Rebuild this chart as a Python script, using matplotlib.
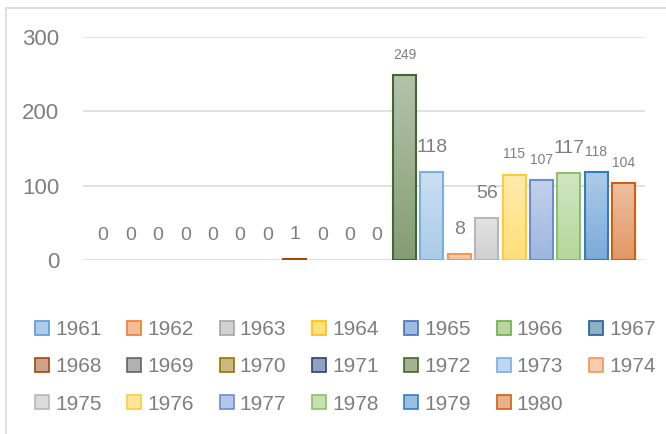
import matplotlib
matplotlib.use("Agg")
import matplotlib.pyplot as plt
import numpy as np
from matplotlib.patches import Patch
from matplotlib.lines import Line2D
from matplotlib.colors import to_rgb

years = [str(y) for y in range(1961, 1981)]
values = [0, 0, 0, 0, 0, 0, 0, 1, 0, 0, 0, 249, 118, 8, 56, 115, 107, 117, 118, 104]
colors = ["#5B9BD5", "#ED7D31", "#A5A5A5", "#FFC000", "#4472C4", "#70AD47", "#255E91",
          "#9E480E", "#636363", "#997300", "#264478", "#43682B", "#7CAFDD", "#F1975A",
          "#B7B7B7", "#FFCD33", "#698ED0", "#8CC168", "#327DC2", "#D26012"]
label_big = [True] * 11 + [False, True, True, True, False, False, True, False, False]
yticks = [0, 100, 200, 300]

TXT = "#7F7F7F"
FONT = "Liberation Sans"
plt.rcParams["font.family"] = [FONT, "DejaVu Sans"]


def mix(c, t):
    r = np.array(to_rgb(c))
    return tuple(r * (1 - t) + t)


fig = plt.figure(figsize=(6.66, 4.34), dpi=100)
ax = fig.add_axes([83 / 666, 174 / 434, 562 / 666, 223 / 434])

w = 0.84
xs = np.arange(len(values))
bars = ax.bar(xs, values, width=w, facecolor="none", edgecolor=colors, linewidth=1.5, zorder=3)

for b, c, x, v in zip(bars, colors, xs, values):
    if v <= 0:
        b.set_visible(False)
        continue
    top = mix(c, 0.6)
    bot = mix(c, 0.35)
    grad = np.linspace(0, 1, 64)[:, None, None]
    img = np.array(bot)[None, None, :] * (1 - grad) + np.array(top)[None, None, :] * grad
    im = ax.imshow(img, extent=(x - w / 2, x + w / 2, 0, v), origin="lower",
                   aspect="auto", zorder=2, interpolation="bilinear")
    im.set_clip_path(b)

for x, v, big in zip(xs, values, label_big):
    if big:
        ax.annotate(str(v), (x, v), xytext=(0, 18), textcoords="offset points",
                    ha="center", va="center", fontsize=14, color=TXT)
    else:
        ax.annotate(str(v), (x, v), xytext=(0, 14.5), textcoords="offset points",
                    ha="center", va="center", fontsize=10, color=TXT)

ax.set_xlim(-0.734, 19.776)
ax.set_ylim(0, 300)
ax.set_yticks(yticks)
ax.set_yticklabels([str(t) for t in yticks])
ax.set_xticks([])
ax.tick_params(axis="y", length=0, pad=17, labelsize=16, labelcolor=TXT)
for s in ax.spines.values():
    s.set_visible(False)
ax.yaxis.grid(True, color="#D9D9D9", linewidth=1.1, zorder=0)
ax.set_axisbelow(True)

# chart border (top and left visible)
fig.add_artist(Line2D([6 / 666, 6 / 666], [0, 1 - 8 / 434], color="#D9D9D9", lw=1.2, transform=fig.transFigure))
fig.add_artist(Line2D([6 / 666, 1], [1 - 8 / 434, 1 - 8 / 434], color="#D9D9D9", lw=1.2, transform=fig.transFigure))

# legend: row-major ordering with 7 columns
handles = [Patch(facecolor=mix(c, 0.5), edgecolor=c, linewidth=1.2) for c in colors]
ncol = 7
order = []
for j in range(ncol):
    for r in range(3):
        i = r * ncol + j
        if i < len(years):
            order.append(i)
leg = fig.legend([handles[i] for i in order], [years[i] for i in order], ncol=ncol,
                 loc="upper left", bbox_to_anchor=(35 / 666, 1 - 320 / 434), frameon=False,
                 fontsize=15, handlelength=0.67, handleheight=0.67, handletextpad=0.29,
                 columnspacing=1.24, labelspacing=0.88, borderpad=0, borderaxespad=0)
for t in leg.get_texts():
    t.set_color(TXT)

fig.savefig("out.png", dpi=100, facecolor="white")
